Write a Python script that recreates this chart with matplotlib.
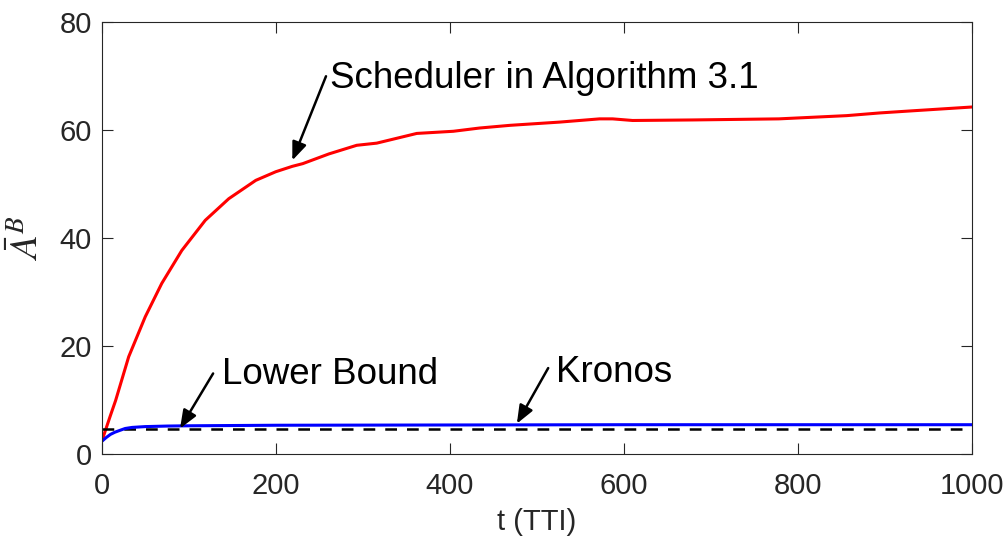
import matplotlib
matplotlib.use('Agg')
import matplotlib.pyplot as plt

plt.rcParams['font.family'] = ['Liberation Sans', 'DejaVu Sans']
plt.rcParams['mathtext.fontset'] = 'stix'

# Scheduler in Algorithm 3.1
t_sched = [0, 10, 16, 31, 50, 69, 92, 119, 146, 177, 200, 219, 231, 261, 293, 316,
           339, 362, 404, 434, 469, 526, 572, 587, 610, 679, 778, 817, 856, 894, 932, 971, 1000]
a_sched = [2.3, 7.1, 9.9, 18.0, 25.4, 31.6, 37.7, 43.3, 47.3, 50.7, 52.3, 53.3, 53.8, 55.6, 57.2, 57.6,
           58.5, 59.4, 59.8, 60.4, 60.9, 61.5, 62.1, 62.1, 61.8, 61.9, 62.1, 62.4, 62.7, 63.2, 63.6, 64.0, 64.3]

# Kronos
t_kronos = [0, 5, 10, 15, 20, 27, 35, 50, 75, 100, 200, 400, 600, 800, 1000]
a_kronos = [2.3, 3.0, 3.6, 4.0, 4.3, 4.7, 4.9, 5.05, 5.15, 5.2, 5.3, 5.35, 5.4, 5.4, 5.4]

# Lower bound
t_lb = [0, 1000]
a_lb = [4.6, 4.6]

# annotations: label, text position, arrow tail, arrow head
notes = [
    ('Scheduler in Algorithm 3.1', (262, 69.6), (257.7, 70.0), (219, 54.4)),
    ('Lower Bound', (138, 14.7), (128, 14.9), (90, 4.7)),
    ('Kronos', (522, 15.1), (513, 15.9), (477, 5.6)),
]

fig = plt.figure(figsize=(10.07, 5.39), dpi=100)
ax = fig.add_axes([0.101, 0.158, 0.8643, 0.8006])

ax.plot(t_sched, a_sched, color='#ff0000', lw=2.2)
ax.plot(t_lb, a_lb, color='black', lw=1.8, linestyle=(0, (4.7, 4.0)))
ax.plot(t_kronos, a_kronos, color='#0000ff', lw=2.2)

ax.set_xlim(0, 1000)
ax.set_ylim(0, 80)
ax.set_xticks([0, 200, 400, 600, 800, 1000])
ax.set_yticks([0, 20, 40, 60, 80])

gray = '#262626'
for s in ax.spines.values():
    s.set_color(gray)
    s.set_linewidth(0.8)
ax.tick_params(direction='in', length=8, width=0.8, colors=gray, labelsize=21,
               top=True, right=True)
ax.tick_params(axis='x', pad=13)
ax.tick_params(axis='y', pad=7)

ax.set_xlabel('t (TTI)', fontsize=21, color=gray, labelpad=6)
ax.set_ylabel(r'$\bar{A}^B$', fontsize=28, color=gray, labelpad=10)

for label, txt, tail, head in notes:
    ax.annotate('', xy=head, xytext=tail,
                arrowprops=dict(arrowstyle='-|>,head_length=0.55,head_width=0.22',
                                color='black', lw=1.8, shrinkA=0, shrinkB=0,
                                mutation_scale=20))
    ax.text(txt[0], txt[1], label, fontsize=26.5, va='center', ha='left', color='black')

fig.savefig('out.png', dpi=100)
